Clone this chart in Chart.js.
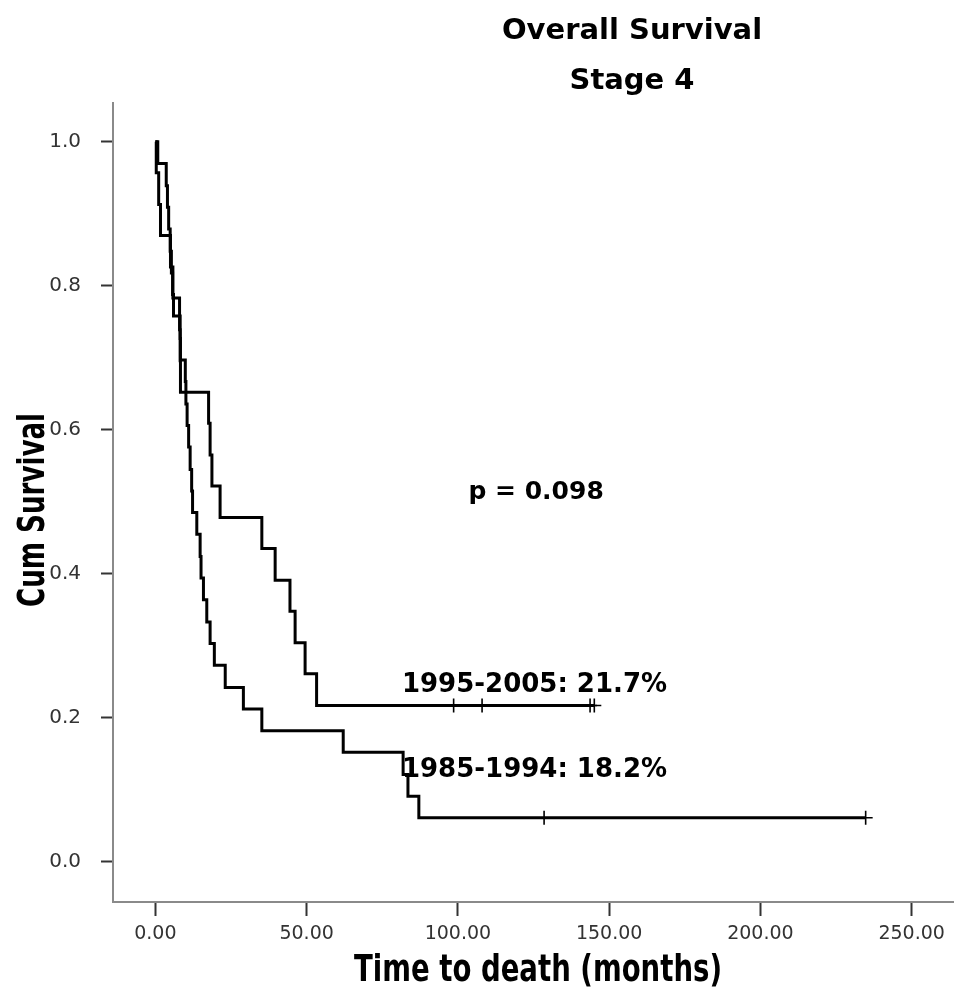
<!DOCTYPE html>
<html>
<head>
<meta charset="utf-8">
<title>Overall Survival - Stage 4</title>
<script src="https://cdn.jsdelivr.net/npm/chart.js@4.4.1/dist/chart.umd.min.js"></script>
<style>
  html, body { margin: 0; padding: 0; background: #fff; }
  canvas { display: block; }
</style>
</head>
<body>
<canvas id="km" width="954" height="995"></canvas>
<script>
// Kaplan-Meier steps, months -> cumulative survival after each death
const lateTimes = [0.3, 1.1, 1.7, 5.0, 5.8, 8.0, 8.2, 8.3, 17.6, 18.1, 18.7, 21.4, 35.2, 39.6, 44.5, 46.2, 49.5, 53.3];
const lateSurv = [0.957, 0.913, 0.870, 0.826, 0.783, 0.739, 0.696, 0.652, 0.609, 0.565, 0.522, 0.478, 0.435, 0.391, 0.348, 0.304, 0.261, 0.217];
const lateCensored = [98.6, 108.0, 143.7, 145.1];

const earlyTimes = [0.8, 3.6, 4.0, 4.4, 4.9, 5.3, 5.7, 6.0, 8.2, 8.3, 9.9, 10.1, 10.5, 11.0, 11.5, 12.0, 12.3, 13.7, 14.8, 15.1, 15.9, 17.0, 18.1, 19.5, 23.1, 29.1, 35.2, 62.1, 81.9, 83.5, 87.1];
const earlySurv = [0.970, 0.939, 0.909, 0.879, 0.848, 0.818, 0.788, 0.758, 0.727, 0.697, 0.667, 0.636, 0.606, 0.576, 0.545, 0.515, 0.485, 0.455, 0.424, 0.394, 0.364, 0.333, 0.303, 0.273, 0.242, 0.212, 0.182, 0.152, 0.121, 0.091, 0.061];
const earlyCensored = [128.5, 234.8];

const groupLabels = ["1995-2005: 21.7%", "1985-1994: 18.2%"];
const pValueLabel = "p = 0.098";
const titleLines = ["Overall Survival", "Stage 4"];
const xAxisTitle = "Time to death (months)";
const yAxisTitle = "Cum Survival";

const xTicks = [0, 50, 100, 150, 200, 250];
const xTickLabels = ["0.00", "50.00", "100.00", "150.00", "200.00", "250.00"];
const yTicks = [0, 0.2, 0.4, 0.6, 0.8, 1.0];
const yTickLabels = ["0.0", "0.2", "0.4", "0.6", "0.8", "1.0"];

function kmPoints(times, surv, censored) {
  const pts = [{ x: 0, y: 1 }];
  times.forEach((t, i) => pts.push({ x: t, y: surv[i] }));
  const last = censored.length ? censored[censored.length - 1] : times[times.length - 1];
  pts.push({ x: last, y: surv[surv.length - 1] });
  return pts;
}

function survivalAt(times, surv, t) {
  let s = 1;
  times.forEach((ti, i) => { if (ti <= t) s = surv[i]; });
  return s;
}

function censorPoints(times, surv, censored) {
  return censored.map(t => ({ x: t, y: survivalAt(times, surv, t) }));
}

const stepLine = {
  type: "line",
  stepped: "before",
  borderColor: "#000",
  borderWidth: 3,
  pointRadius: 0,
  fill: false
};

const censorMarks = {
  type: "scatter",
  showLine: false,
  pointStyle: "cross",
  pointRadius: 7,
  borderColor: "#000",
  borderWidth: 1.6
};

// draws text squeezed to a given width, centred on (cx, cy)
function condensedText(ctx, text, cx, cy, width, rotate) {
  ctx.save();
  ctx.translate(cx, cy);
  if (rotate) ctx.rotate(-Math.PI / 2);
  const w = ctx.measureText(text).width;
  ctx.scale(width / w, 1);
  ctx.fillText(text, 0, 0);
  ctx.restore();
}

// titles, axis titles and in-plot labels
const textPlugin = {
  id: "kmText",
  afterDraw(chart) {
    const ctx = chart.ctx;
    const x = chart.scales.x, y = chart.scales.y;
    ctx.save();
    ctx.fillStyle = "#000";
    ctx.textAlign = "center";
    ctx.textBaseline = "alphabetic";
    ctx.font = 'bold 29px "DejaVu Sans"';
    ctx.fillText(titleLines[0], 632, 39);
    ctx.fillText(titleLines[1], 632, 89);

    ctx.font = 'bold 38px "DejaVu Sans"';
    ctx.textBaseline = "middle";
    condensedText(ctx, xAxisTitle, 538, 971, 368, false);
    condensedText(ctx, yAxisTitle, 34, 510, 194, true);

    ctx.textAlign = "left";
    ctx.textBaseline = "alphabetic";
    ctx.font = 'bold 25px "DejaVu Sans"';
    ctx.fillText(pValueLabel, x.getPixelForValue(103.5), y.getPixelForValue(0.504));
    ctx.font = 'bold 26px "DejaVu Sans"';
    ctx.fillText(groupLabels[0], x.getPixelForValue(81.5), y.getPixelForValue(0.236));
    ctx.fillText(groupLabels[1], x.getPixelForValue(81.5), y.getPixelForValue(0.118));
    ctx.restore();
  }
};

new Chart(document.getElementById("km"), {
  data: {
    datasets: [
      Object.assign({ label: "1995-2005", data: kmPoints(lateTimes, lateSurv, lateCensored) }, stepLine),
      Object.assign({ label: "1985-1994", data: kmPoints(earlyTimes, earlySurv, earlyCensored) }, stepLine),
      Object.assign({ label: "1995-2005 censored", data: censorPoints(lateTimes, lateSurv, lateCensored) }, censorMarks),
      Object.assign({ label: "1985-1994 censored", data: censorPoints(earlyTimes, earlySurv, earlyCensored) }, censorMarks)
    ]
  },
  options: {
    responsive: false,
    animation: false,
    layout: { autoPadding: false, padding: { top: 103, left: 0, right: 0, bottom: 0 } },
    plugins: { legend: { display: false }, tooltip: { enabled: false } },
    scales: {
      x: {
        type: "linear",
        position: "bottom",
        min: -14,
        max: 264,
        afterBuildTicks: s => { s.ticks = xTicks.map(v => ({ value: v })); },
        afterFit: s => { s.height = 93; s.paddingLeft = 0; s.paddingRight = 0; },
        grid: { drawOnChartArea: false, tickLength: 14, tickWidth: 2, tickColor: "#333" },
        border: { color: "#8a8a8a", width: 2 },
        ticks: {
          padding: 7,
          color: "#333",
          font: { family: "DejaVu Sans", size: 19 },
          callback: (v, i) => xTickLabels[i]
        }
      },
      y: {
        type: "linear",
        min: -0.056,
        max: 1.054,
        afterBuildTicks: s => { s.ticks = yTicks.map(v => ({ value: v })); },
        afterFit: s => { s.width = 113; },
        grid: { drawOnChartArea: false, tickLength: 12, tickWidth: 2, tickColor: "#333" },
        border: { color: "#8a8a8a", width: 2 },
        ticks: {
          padding: 20,
          color: "#333",
          font: { family: "DejaVu Sans", size: 20 },
          callback: (v, i) => yTickLabels[i]
        }
      }
    }
  },
  plugins: [textPlugin]
});
</script>
</body>
</html>
